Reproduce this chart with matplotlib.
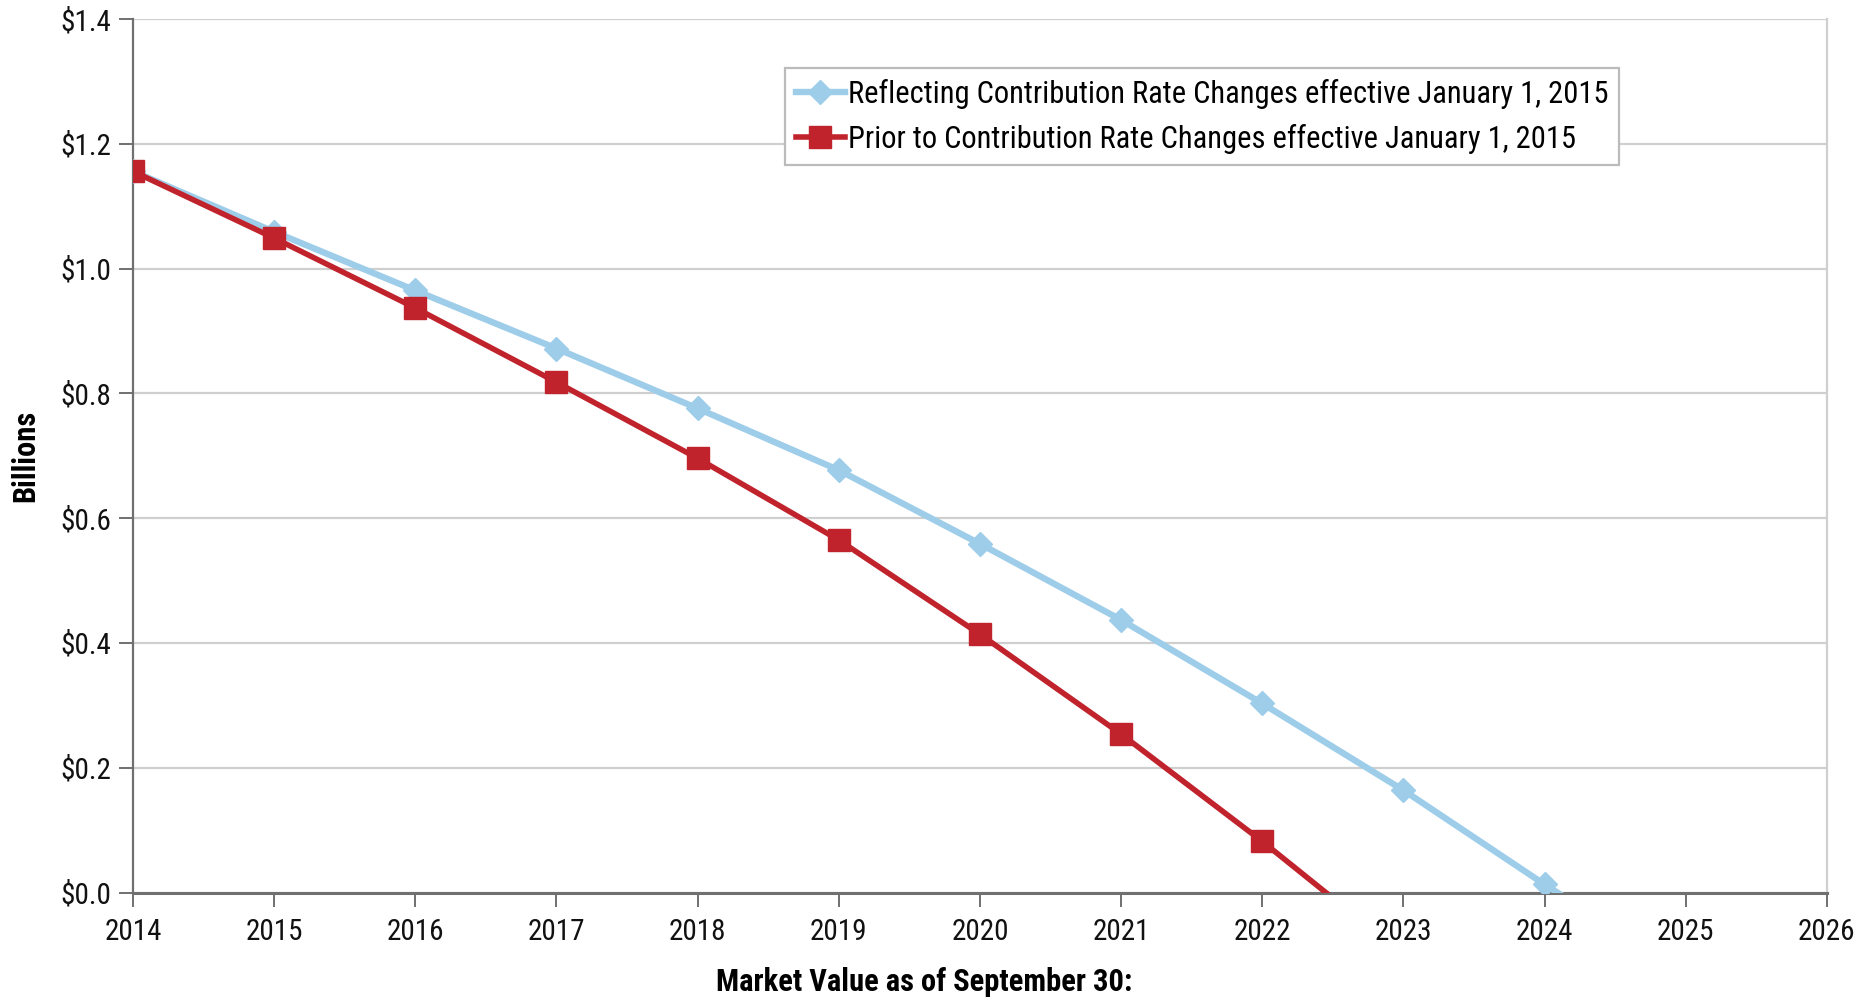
import matplotlib
matplotlib.use("Agg")
import matplotlib.pyplot as plt
from matplotlib.ticker import FuncFormatter, MultipleLocator
from matplotlib import font_manager

years = [2014, 2015, 2016, 2017, 2018, 2019, 2020, 2021, 2022, 2023, 2024, 2025]
reflecting = [1.156, 1.059, 0.965, 0.872, 0.776, 0.677, 0.559, 0.437, 0.303, 0.164, 0.013, -0.13]
prior_years = [2014, 2015, 2016, 2017, 2018, 2019, 2020, 2021, 2022, 2023]
prior = [1.156, 1.049, 0.937, 0.818, 0.696, 0.565, 0.414, 0.254, 0.082, -0.10]
label_reflecting = "Reflecting Contribution Rate Changes effective January 1, 2015"
label_prior = "Prior to Contribution Rate Changes effective January 1, 2015"

avail = {f.name for f in font_manager.fontManager.ttflist}
fam = [f for f in ["Roboto Condensed", "Liberation Sans Narrow", "DejaVu Sans Condensed", "Liberation Sans"] if f in avail] + ["DejaVu Sans"]
plt.rcParams['font.family'] = fam

fig = plt.figure(figsize=(18.66, 10.06), dpi=100)
ax = fig.add_axes([0.0713, 0.1128, 0.9077, 0.8682])

blue = "#9ECDEA"
red = "#C1232D"

ax.plot(years, reflecting, color=blue, lw=4.6, marker="D", markersize=12,
        markeredgecolor=blue, markerfacecolor=blue, label=label_reflecting, zorder=3)
ax.plot(prior_years, prior, color=red, lw=4.0, marker="s", markersize=16,
        markeredgecolor=red, markerfacecolor=red, label=label_prior, zorder=4)

ax.set_xlim(2014, 2026)
ax.set_ylim(0, 1.4)
ax.xaxis.set_major_locator(MultipleLocator(1))
ax.yaxis.set_major_locator(MultipleLocator(0.2))
ax.yaxis.set_major_formatter(FuncFormatter(lambda v, p: f"${v:.1f}"))
ax.grid(axis="y", color="#CFCFCF", lw=1.6, zorder=0)
ax.set_axisbelow(True)

ax.spines["top"].set_visible(False)
ax.spines["right"].set_color("#CFCFCF")
ax.spines["right"].set_linewidth(1.6)
ax.spines["left"].set_color("#707070")
ax.spines["bottom"].set_color("#707070")
ax.spines["left"].set_linewidth(1.6)
ax.spines["bottom"].set_linewidth(2.2)

ax.tick_params(axis="both", direction="out", length=10, width=1.4, color="#707070",
               labelsize=21, labelcolor="#111111")
ax.tick_params(axis="x", pad=8)
ax.tick_params(axis="y", pad=6)

ax.set_ylabel("Billions", fontsize=22, fontweight="bold", labelpad=14)
ax.set_xlabel("Market Value as of September 30:", fontsize=22, fontweight="bold", labelpad=22)
ax.xaxis.set_label_coords(0.467, -0.085)

leg = ax.legend(loc="upper left", bbox_to_anchor=(0.385, 0.944), fontsize=22,
                frameon=True, fancybox=False, edgecolor="#BBBBBB", framealpha=1,
                handlelength=1.6, handletextpad=0.1, borderpad=0.35, labelspacing=0.5,
                borderaxespad=0, markerscale=1.0)
leg.get_frame().set_linewidth(1.6)

fig.savefig("out.png", dpi=100)
